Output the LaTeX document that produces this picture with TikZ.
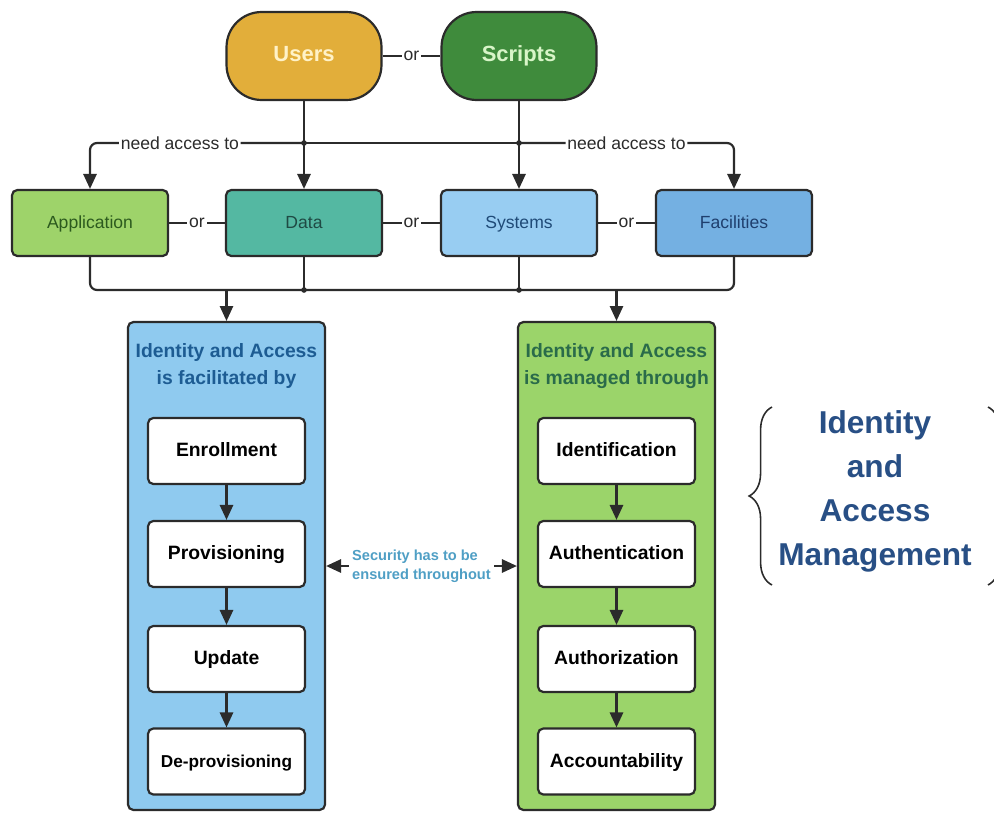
\documentclass[tikz,border=0pt]{standalone}
\usepackage{fontspec}
\setmainfont{Liberation Sans}
\usetikzlibrary{arrows.meta,decorations.pathreplacing}

\definecolor{linegray}{RGB}{43,43,43}
\definecolor{usersfill}{RGB}{226,174,58}
\definecolor{scriptsfill}{RGB}{63,139,60}
\definecolor{appfill}{RGB}{158,211,106}
\definecolor{datafill}{RGB}{84,184,162}
\definecolor{sysfill}{RGB}{152,205,242}
\definecolor{facfill}{RGB}{116,176,226}
\definecolor{leftfill}{RGB}{143,202,239}
\definecolor{rightfill}{RGB}{155,212,106}
\definecolor{titleblue}{RGB}{29,92,147}
\definecolor{titlegreen}{RGB}{42,107,74}
\definecolor{secblue}{RGB}{79,159,197}
\definecolor{iamblue}{RGB}{40,79,133}

\tikzset{
  pill/.style={draw=linegray, rounded corners=20pt, minimum width=3.1cm, minimum height=1.76cm,
    text height=1.6ex, text depth=0.4ex, font=\bfseries\fontsize{12.5}{15}\selectfont},
  asset/.style={draw=linegray, rounded corners=3pt, minimum width=3.12cm, minimum height=1.32cm,
    text height=1.6ex, text depth=0.4ex, font=\fontsize{10}{12}\selectfont},
  panel/.style={draw=linegray, rounded corners=3pt, minimum width=3.94cm, minimum height=9.76cm},
  stepbox/.style={draw=linegray, fill=white, rounded corners=3pt, minimum width=3.14cm,
    minimum height=1.32cm, text height=1.6ex, text depth=0.4ex,
    font=\bfseries\fontsize{11}{13}\selectfont},
  orlabel/.style={fill=white, inner sep=1pt, text=linegray, font=\fontsize{10}{12}\selectfont},
  paneltitle/.style={align=center, font=\bfseries\fontsize{11}{15}\selectfont},
  joint/.style={fill=linegray}
}

\begin{document}
\begin{tikzpicture}[x=0.02cm, y=-0.02cm, line width=1.25pt, draw=linegray,
    >={Triangle[length=8.5pt,width=7.5pt]}]
    \useasboundingbox (0,0) rectangle (994,812);

    % Who needs access
    \node[pill, fill=usersfill, text={rgb,255:red,255;green,242;blue,200}] (users) at (304,56) {Users};
    \node[pill, fill=scriptsfill, text={rgb,255:red,216;green,245;blue,200}] (scripts) at (519,56) {Scripts};
    \draw (users) -- node[orlabel]{or} (scripts);

    % What they need access to
    \node[asset, fill=appfill, text={rgb,255:red,44;green,90;blue,30}] (app) at (90,223) {Application};
    \node[asset, fill=datafill, text={rgb,255:red,31;green,74;blue,68}] (data) at (304,223) {Data};
    \node[asset, fill=sysfill, text={rgb,255:red,31;green,74;blue,119}] (sys) at (519,223) {Systems};
    \node[asset, fill=facfill, text={rgb,255:red,31;green,63;blue,110}] (fac) at (734,223) {Facilities};
    \draw (app) -- node[orlabel]{or} (data);
    \draw (data) -- node[orlabel]{or} (sys);
    \draw (sys) -- node[orlabel]{or} (fac);

    \coordinate (jl) at (304,143);
    \coordinate (jr) at (519,143);
    \coordinate (bus) at (0,290);

    \draw[->] (users) -- (data);
    \draw[->] (scripts) -- (sys);
    \draw (jl) -- (jr);
    \draw[->, rounded corners=4pt] (jl) -- node[orlabel, pos=0.58]{need access to} (app.north |- jl) -- (app.north);
    \draw[->, rounded corners=4pt] (jr) -- node[orlabel]{need access to} (fac.north |- jr) -- (fac.north);
    \fill[joint] (jl) circle (1.6pt);
    \fill[joint] (jr) circle (1.6pt);

    % Collecting line
    \draw[rounded corners=4pt] (app.south) -- (app.south |- bus) -- (fac.south |- bus) -- (fac.south);
    \draw (data.south) -- (data.south |- bus);
    \draw (sys.south) -- (sys.south |- bus);
    \fill[joint] (data.south |- bus) circle (1.6pt);
    \fill[joint] (sys.south |- bus) circle (1.6pt);

    % The two panels
    \node[panel, fill=leftfill] (lpanel) at (226.5,566) {};
    \node[panel, fill=rightfill] (rpanel) at (616.5,566) {};
    \draw[->] (lpanel.north |- bus) -- (lpanel.north);
    \draw[->] (rpanel.north |- bus) -- (rpanel.north);

    \node[paneltitle, text=titleblue] (ltitle) at (226.5,366) {Identity and Access\\is facilitated by};
    \node[paneltitle, text=titlegreen] (rtitle) at (616.5,366) {Identity and Access\\is managed through};

    \node[stepbox] (enrol) at (226.5,451) {Enrollment};
    \node[stepbox] (prov) at (226.5,554) {Provisioning};
    \node[stepbox] (upd) at (226.5,659) {Update};
    \node[stepbox, font=\bfseries\fontsize{9.8}{12}\selectfont] (deprov) at (226.5,761.5) {De-provisioning};
    \draw[->] (enrol) -- (prov);
    \draw[->] (prov) -- (upd);
    \draw[->] (upd) -- (deprov);

    \node[stepbox] (ident) at (616.5,451) {Identification};
    \node[stepbox] (authn) at (616.5,554) {Authentication};
    \node[stepbox] (authz) at (616.5,659) {Authorization};
    \node[stepbox] (acct) at (616.5,761.5) {Accountability};
    \draw[->] (ident) -- (authn);
    \draw[->] (authn) -- (authz);
    \draw[->] (authz) -- (acct);

    \draw[<->] (lpanel.east) -- node[fill=white, inner sep=2pt, align=left, text=secblue,
      font=\bfseries\fontsize{8.3}{11}\selectfont]{Security has to be\\ensured throughout} (rpanel.west);

    % Brace and heading
    \begin{scope}
      \clip (0,0) rectangle (994,812);
      \draw[line width=0.9pt, decorate, decoration={brace, amplitude=13pt}] (772,585) -- (772,407);
      \draw[line width=0.9pt, decorate, decoration={brace, amplitude=13pt}] (988,407) -- (988,585);
    \end{scope}
    \node[align=center, text=iamblue, font=\bfseries\fontsize{18}{25}\selectfont] (iam) at (875,491)
      {Identity\\and\\Access\\Management};
\end{tikzpicture}
\end{document}
